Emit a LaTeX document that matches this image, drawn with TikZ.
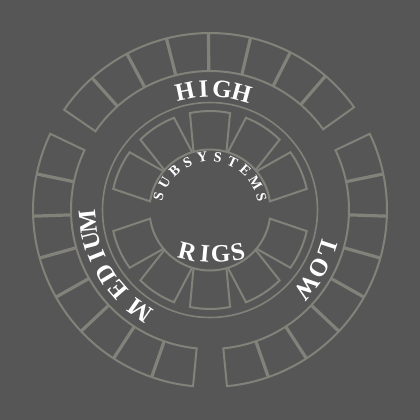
\documentclass[tikz,border=0pt]{standalone}
\usepackage{fontspec}
\setmainfont{Liberation Serif}
\definecolor{bgGray}{RGB}{86,86,86}
\definecolor{ringGray}{RGB}{130,130,122}

\begin{document}
\begin{tikzpicture}[x=0.5pt,y=0.5pt,
  ringline/.style={draw=ringGray,line width=1pt},
  sepline/.style={draw=ringGray,line width=1.6pt},
  biglabel/.style={text=white,inner sep=0pt,font=\fontsize{12.5}{12.5}\selectfont\bfseries},
  smalllabel/.style={text=white,inner sep=0pt,font=\fontsize{7.2}{7.2}\selectfont\bfseries}]

%-------------------------------------------------------------------
% Background
\fill[bgGray] (-210,-210) rectangle (210,210);

%-------------------------------------------------------------------
% Outer ring: three groups of eight boxes
\foreach \c in {90.5,209.5,330.5}{
  \draw[ringline] (\c-55:139) arc[start angle=\c-55,end angle=\c+55,radius=139]
    -- (\c+55:177) arc[start angle=\c+55,end angle=\c-55,radius=177] -- cycle;
  \foreach \k in {1,...,7}{
    \draw[sepline] (\c-55+13.75*\k:139)--(\c-55+13.75*\k:177);}
}

% Middle circle
\draw[ringGray,line width=0.8pt] (0,0) circle[radius=107.5];

% Inner ring: five boxes above, five below
\foreach \a in {24,57,90,123,156,204,237,270,303,336}{
  \draw[ringline] (\a-11.7:99) arc[start angle=\a-11.7,end angle=\a+11.7,radius=99]
    -- (\a+15.8:60.5) arc[start angle=\a+15.8,end angle=\a-15.8,radius=60.5] -- cycle;
}

%-------------------------------------------------------------------
% Outer labels (tops facing out)
\foreach \ch/\a [count=\i] in {H/102,I/93,G/84.2,H/74.8}{
  \node[biglabel,rotate=\a-90] (high\i) at (\a:121) {\ch};}
\foreach \ch/\a [count=\i] in {M/235,E/221,D/211.5,I/202,U/194.5,M/185.5}{
  \node[biglabel,rotate=\a-90] (medium\i) at (\a:122) {\ch};}
\foreach \ch/\a [count=\i] in {L/-18.2,O/-27.9,W/-38.5}{
  \node[biglabel,rotate=\a-90] (low\i) at (\a:123.5) {\ch};}

% Inner labels
\foreach \ch [count=\i] in {S,U,B,S,Y,S,T,E,M,S}{
  \node[smalllabel,rotate=75.6-16.8*\i+16.8] (subsys\i) at (165.6-16.8*\i+16.8:53) {\ch};}
\foreach \ch/\x/\y/\r [count=\i] in {R/-22.7/-41.7/-14,I/-5/-43.3/-5,G/10.7/-44/3,S/27.7/-41.7/12}{
  \node[biglabel,rotate=\r] (rigs\i) at (\x,\y) {\ch};}

\end{tikzpicture}
\end{document}
